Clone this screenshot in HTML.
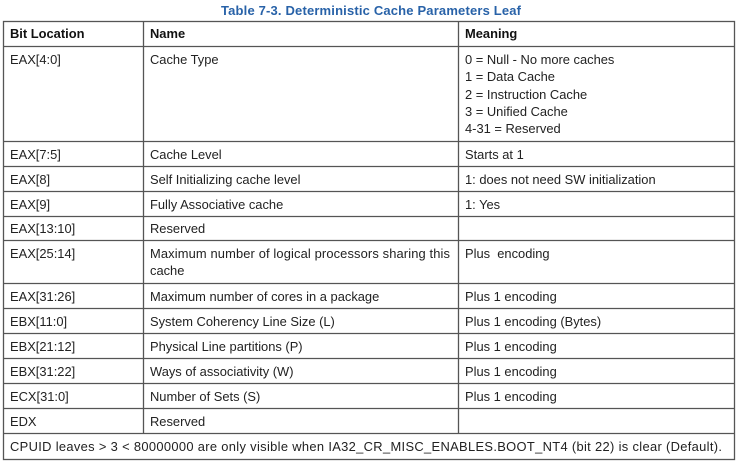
<!DOCTYPE html>
<html><head><meta charset="utf-8"><style>
html,body{margin:0;padding:0;background:#fff;}
svg{display:block;}
text{font-family:"Liberation Sans",sans-serif;font-size:12.9px;fill:#222;}
.b{font-weight:bold;fill:#111;}
.t{font-weight:bold;fill:#2862a8;font-size:13px;}
</style></head><body>
<svg width="741" height="466" viewBox="0 0 741 466" xmlns="http://www.w3.org/2000/svg">
<text class="t" x="371" y="15" text-anchor="middle" textLength="300">Table 7-3.  Deterministic Cache Parameters Leaf</text>
<g stroke="#555" stroke-width="1.3" fill="none">
<rect x="3.5" y="21.5" width="731" height="438"/>
<line x1="143.5" y1="21" x2="143.5" y2="434"/>
<line x1="458.5" y1="21" x2="458.5" y2="434"/>
<line x1="3" y1="46.5" x2="735" y2="46.5"/>
<line x1="3" y1="141.5" x2="735" y2="141.5"/>
<line x1="3" y1="166.5" x2="735" y2="166.5"/>
<line x1="3" y1="191.5" x2="735" y2="191.5"/>
<line x1="3" y1="216.5" x2="735" y2="216.5"/>
<line x1="3" y1="240.5" x2="735" y2="240.5"/>
<line x1="3" y1="283.5" x2="735" y2="283.5"/>
<line x1="3" y1="308.5" x2="735" y2="308.5"/>
<line x1="3" y1="333.5" x2="735" y2="333.5"/>
<line x1="3" y1="358.5" x2="735" y2="358.5"/>
<line x1="3" y1="383.5" x2="735" y2="383.5"/>
<line x1="3" y1="408.5" x2="735" y2="408.5"/>
<line x1="3" y1="433.5" x2="735" y2="433.5"/>
</g>
<text class="b" x="10" y="38">Bit Location</text>
<text class="b" x="150" y="38">Name</text>
<text class="b" x="465" y="38">Meaning</text>

<text x="10" y="64">EAX[4:0]</text>
<text x="150" y="64">Cache Type</text>
<text x="465" y="64">0 = Null - No more caches</text>
<text x="465" y="81">1 = Data Cache</text>
<text x="465" y="99">2 = Instruction Cache</text>
<text x="465" y="116">3 = Unified Cache</text>
<text x="465" y="133">4-31 = Reserved</text>

<text x="10" y="159">EAX[7:5]</text><text x="150" y="159">Cache Level</text><text x="465" y="159">Starts at 1</text>
<text x="10" y="184">EAX[8]</text><text x="150" y="184">Self Initializing cache level</text><text x="465" y="184">1: does not need SW initialization</text>
<text x="10" y="209">EAX[9]</text><text x="150" y="209">Fully Associative cache</text><text x="465" y="209">1: Yes</text>
<text x="10" y="233">EAX[13:10]</text><text x="150" y="233">Reserved</text>
<text x="10" y="258">EAX[25:14]</text><text x="150" y="258" textLength="300">Maximum number of logical processors sharing this</text><text x="150" y="275">cache</text><text x="465" y="258">Plus&#160; encoding</text>
<text x="10" y="301">EAX[31:26]</text><text x="150" y="301">Maximum number of cores in a package</text><text x="465" y="301">Plus 1 encoding</text>
<text x="10" y="326">EBX[11:0]</text><text x="150" y="326">System Coherency Line Size (L)</text><text x="465" y="326">Plus 1 encoding (Bytes)</text>
<text x="10" y="351">EBX[21:12]</text><text x="150" y="351">Physical Line partitions (P)</text><text x="465" y="351">Plus 1 encoding</text>
<text x="10" y="376">EBX[31:22]</text><text x="150" y="376">Ways of associativity (W)</text><text x="465" y="376">Plus 1 encoding</text>
<text x="10" y="401">ECX[31:0]</text><text x="150" y="401">Number of Sets (S)</text><text x="465" y="401">Plus 1 encoding</text>
<text x="10" y="426">EDX</text><text x="150" y="426">Reserved</text>
<text x="10" y="451" textLength="712">CPUID leaves &gt; 3 &lt; 80000000 are only visible when IA32_CR_MISC_ENABLES.BOOT_NT4 (bit 22) is clear (Default).</text>
</svg>
</body></html>
